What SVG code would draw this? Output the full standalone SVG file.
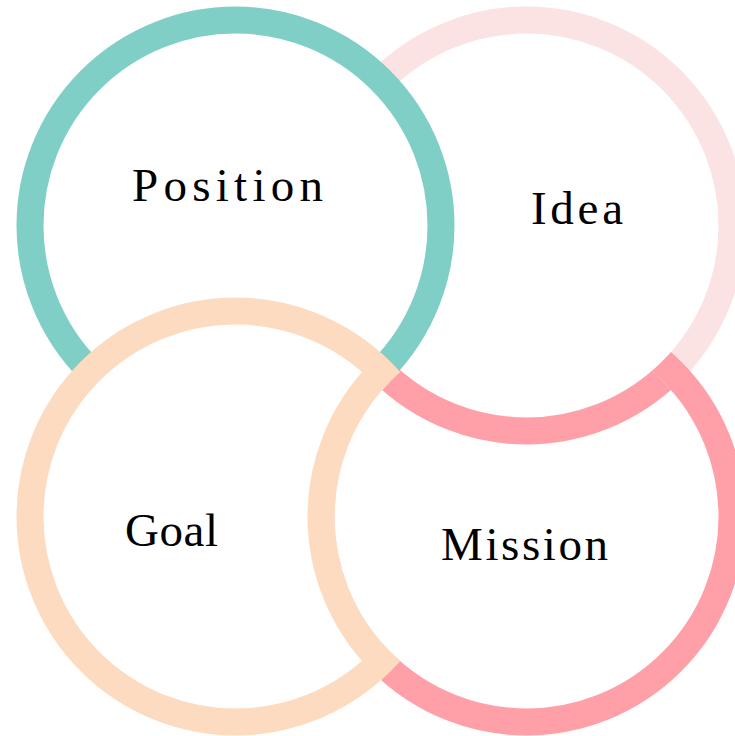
<svg xmlns="http://www.w3.org/2000/svg" width="735" height="736" viewBox="0 0 735 736">
  <style>
    .ring { stroke-width: 27; }
    .lbl { font-family: "Liberation Serif", "DejaVu Serif", serif; font-size: 47px; fill: #000000; }
  </style>
  <defs>
    <clipPath id="outIdeaIn">
      <path clip-rule="evenodd" d="M-10,-10 H745 V746 H-10 Z M718.5,225.5 A192,192 0 1,0 334.5,225.5 A192,192 0 1,0 718.5,225.5 Z"/>
    </clipPath>
    <clipPath id="inMissionIn">
      <circle cx="526.5" cy="516.5" r="192"/>
    </clipPath>
    <clipPath id="outMissionIn">
      <path clip-rule="evenodd" d="M-10,-10 H745 V746 H-10 Z M718.5,516.5 A192,192 0 1,0 334.5,516.5 A192,192 0 1,0 718.5,516.5 Z"/>
    </clipPath>
    <clipPath id="inGoalDisc">
      <circle cx="235.5" cy="516.5" r="219"/>
    </clipPath>
  </defs>
  <rect x="0" y="0" width="735" height="736" fill="#FFFFFF"/>

  <g id="idea">
    <circle class="ring" cx="526.5" cy="225.5" r="205.5" fill="#FFFFFF" stroke="#FCE3E3"/>
    <text class="lbl" x="531" y="223.5" textLength="92" lengthAdjust="spacing">Idea</text>
  </g>

  <g id="mission">
    <g clip-path="url(#outIdeaIn)">
      <circle class="ring" cx="526.5" cy="516.5" r="205.5" fill="#FFFFFF" stroke="#FFA0A8"/>
    </g>
    <circle class="ring" cx="526.5" cy="225.5" r="205.5" fill="none" stroke="#FFA0A8" clip-path="url(#inMissionIn)"/>
    <text class="lbl" x="441" y="559.5" textLength="167" lengthAdjust="spacing">Mission</text>
  </g>

  <g id="position">
    <circle class="ring" cx="235.5" cy="225.5" r="205.5" fill="#FFFFFF" stroke="#80CFC7"/>
    <text class="lbl" x="132" y="201" textLength="191" lengthAdjust="spacing">Position</text>
  </g>

  <g id="goal">
    <g clip-path="url(#outMissionIn)">
      <circle class="ring" cx="235.5" cy="516.5" r="205.5" fill="#FFFFFF" stroke="#FDDBC0"/>
    </g>
    <circle class="ring" cx="526.5" cy="516.5" r="205.5" fill="none" stroke="#FDDBC0" clip-path="url(#inGoalDisc)"/>
    <text class="lbl" x="125" y="546" textLength="93" lengthAdjust="spacing">Goal</text>
  </g>
</svg>
